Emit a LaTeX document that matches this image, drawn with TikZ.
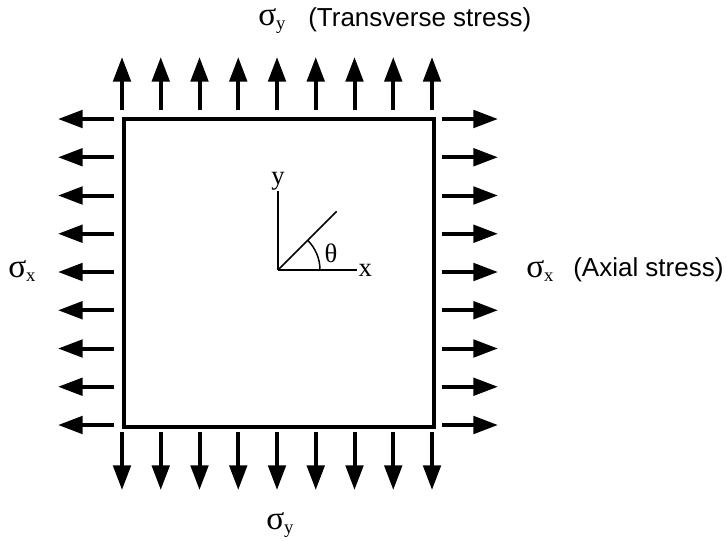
\documentclass[tikz,border=0pt]{standalone}
\usepackage{fontspec}
\setmainfont{Liberation Sans}
\newfontfamily\seriffont{Liberation Serif}
\usetikzlibrary{arrows.meta}
\newcommand{\sig}[1]{{\seriffont\fontsize{25}{27}\selectfont σ\raisebox{-0.3ex}{\fontsize{14}{15}\selectfont #1}}}

\begin{document}
\begin{tikzpicture}[x=0.75pt, y=-0.75pt,
  load/.style={line width=3pt, -{Triangle[length=18.5pt, width=13pt]}},
  axis/.style={line width=1.1pt},
  lbl/.style={font=\fontsize{19.5}{22}\selectfont, inner sep=0pt, anchor=west},
  sym/.style={font=\seriffont\fontsize{20}{22}\selectfont, inner sep=1pt}]
  \useasboundingbox (0,0) rectangle (727,540);
  % plate
  \draw[line width=2.3pt] (124,119) rectangle (434,427);
  % transverse stress, top and bottom
  \foreach \i in {0,...,8} {
    \draw[load] (122+38.75*\i,110) -- (122+38.75*\i,57);
    \draw[load] (122+38.75*\i,432) -- (122+38.75*\i,490);
  }
  % axial stress, left and right
  \foreach \i in {0,...,8} {
    \draw[load] (114,119+38.25*\i) -- (58,119+38.25*\i);
    \draw[load] (442,119+38.25*\i) -- (498,119+38.25*\i);
  }
  % local axes and fibre angle
  \coordinate (O) at (278,270);
  \draw[axis] (O) -- ++(79,0) coordinate (xe);
  \draw[axis] (O) -- ++(0,-79) coordinate (ye);
  \draw[axis] (O) -- ++(-45:83) coordinate (fe);
  \draw[axis] ([xshift=31.5pt]O) arc[start angle=0, end angle=45, radius=31.5pt];
  \node[sym, right] (xl) at (xe) {x};
  \node[sym, above, inner sep=0pt] (yl) at (ye) {y};
  \node[sym] (th) at (331,253) {θ};
  % labels
  \node[lbl] (syt) at (258,21) {\sig{y}};
  \node[lbl] (ts) at (308,20) {(Transverse stress)};
  \node[lbl] (sxl) at (8,271) {\sig{x}};
  \node[lbl] (sxr) at (526,271) {\sig{x}};
  \node[lbl] (as) at (573,270) {(Axial stress)};
  \node[lbl] (syb) at (266,525) {\sig{y}};
\end{tikzpicture}
\end{document}
